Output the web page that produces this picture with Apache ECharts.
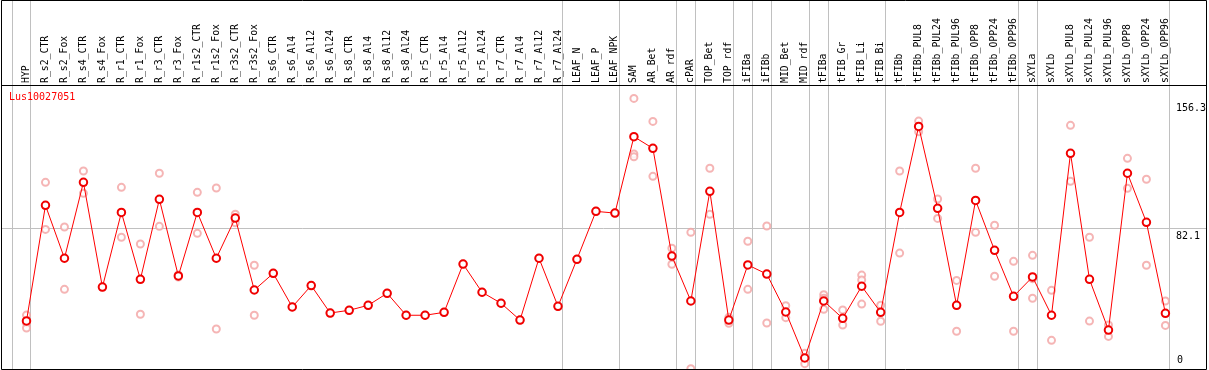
<!DOCTYPE html>
<html>
<head>
<meta charset="utf-8">
<script src="https://cdn.jsdelivr.net/npm/echarts@6/dist/echarts.min.js"></script>
<style>
html,body{margin:0;padding:0;background:#fff;}
#chart{width:1209px;height:370px;}
</style>
</head>
<body>
<div id="chart"></div>
<script>
const titleText = 'Lus10027051';
const categories = ['HYP','R_s2_CTR','R_s2_Fox','R_s4_CTR','R_s4_Fox','R_r1_CTR','R_r1_Fox','R_r3_CTR','R_r3_Fox','R_r1s2_CTR','R_r1s2_Fox','R_r3s2_CTR','R_r3s2_Fox','R_s6_CTR','R_s6_Al4','R_s6_Al12','R_s6_Al24','R_s8_CTR','R_s8_Al4','R_s8_Al12','R_s8_Al24','R_r5_CTR','R_r5_Al4','R_r5_Al12','R_r5_Al24','R_r7_CTR','R_r7_Al4','R_r7_Al12','R_r7_Al24','LEAF_N','LEAF_P','LEAF_NPK','SAM','AR_Bet','AR_rdf','cPAR','TOP_Bet','TOP_rdf','iFIBa','iFIBb','MID_Bet','MID_rdf','tFIBa','tFIB_Gr','tFIB_Li','tFIB_Bi','tFIBb','tFIBb_PUL8','tFIBb_PUL24','tFIBb_PUL96','tFIBb_OPP8','tFIBb_OPP24','tFIBb_OPP96','sXYLa','sXYLb','sXYLb_PUL8','sXYLb_PUL24','sXYLb_PUL96','sXYLb_OPP8','sXYLb_OPP24','sXYLb_OPP96'];
const meanValues = [28.0,95.3,64.5,108.7,47.7,91.2,52.2,98.8,54.2,91.2,64.5,87.9,46.0,55.7,36.1,48.6,32.6,34.2,37.1,44.1,31.3,31.3,33.0,61.1,44.7,38.3,28.5,64.5,36.5,63.9,91.8,90.8,135.3,128.5,65.8,39.6,103.5,28.5,60.6,55.3,33.2,6.4,39.6,29.5,48.2,33.0,91.2,141.3,93.6,37.1,98.2,69.1,42.3,53.6,31.3,125.6,52.2,22.7,114.0,85.4,32.4];
const replicates = [
  [31.4,26.8,23.9],[108.7,81.3],[82.7,46.4],[115.3,102.3],[47.7],[105.8,76.7],[72.8,31.9],[114.0,83.1],[53.6,54.8],[102.9,79.0],[105.4,23.3],[90.1,85.2],[60.4,31.3],
  [55.7],[36.1],[48.6],[32.6],[34.2],[37.1],[44.1],[31.3],[31.3],[33.0],[61.1],[44.7],[38.3],[28.5],[64.5],[36.5],[63.9],[91.8],[90.8],
  [157.6,125.2,123.6],[144.2,112.2],[70.3,61.0],[79.6,0.2],[116.9,90.1],[30.1,26.6],[74.4,46.4],[83.3,26.8],[36.9,29.9],[9.1,3.1],
  [43.3,41.2,34.8],[34.4,25.6],[54.7,51.8,37.8],[37.1,27.8],[115.3,67.5],[144.4,138.2],[99.0,87.7],[51.6,22.0],[116.9,79.6],[83.7,54.0],[62.7,22.0],
  [66.2,52.6,41.2],[45.8,16.7],[141.9,109.3],[76.7,27.9],[25.6,19.0],[122.7,105.2],[110.5,60.4],[39.6,25.4]
];
const yTickValues = [0, 82.1, 156.3];
const yGridValue = 82.1;
const groupEnds = [-1, 0, 28, 31, 34, 35, 37, 38, 39, 41, 42, 45, 52, 53, 60];

const repData = [];
replicates.forEach((arr, i) => arr.forEach(v => repData.push([i, v])));

const FONT = 'DejaVu Sans Mono';
const YMAX = 165.4;
const gridBase = {left: 17, right: 33, top: 85, bottom: 1};

const chart = echarts.init(document.getElementById('chart'), null, {renderer: 'canvas'});
chart.setOption({
  animation: false,
  backgroundColor: '#fff',
  title: {
    text: titleText, left: 9, top: 92, padding: 0,
    textStyle: {color: '#ff0000', fontSize: 10, fontWeight: 'normal', fontFamily: FONT}
  },
  grid: [Object.assign({}, gridBase), Object.assign({}, gridBase)],
  xAxis: [{
    type: 'category', data: categories, position: 'top', gridIndex: 0,
    boundaryGap: true,
    axisLine: {show: false}, axisTick: {show: false}, splitLine: {show: false},
    axisLabel: {rotate: 90, interval: 0, margin: 2, color: '#000', fontSize: 9.8, fontFamily: FONT}
  }, {
    type: 'category', data: categories, gridIndex: 1, show: false
  }],
  yAxis: [{
    type: 'value', position: 'right', min: 0, max: YMAX, gridIndex: 0,
    axisLine: {show: false}, axisTick: {show: false}, splitLine: {show: false},
    axisLabel: {
      customValues: yTickValues.filter(v => v > 0),
      verticalAlign: 'top', align: 'left', margin: 1, padding: [3, 0, 0, 0],
      color: '#000', fontSize: 10, fontFamily: FONT,
      formatter: v => String(v)
    }
  }, {
    type: 'value', position: 'right', min: 0, max: YMAX, gridIndex: 1,
    axisLine: {show: false}, axisTick: {show: false}, splitLine: {show: false},
    axisLabel: {
      customValues: yTickValues.filter(v => v === 0),
      verticalAlign: 'bottom', align: 'left', margin: 1, padding: [0, 0, 4, 0],
      color: '#000', fontSize: 10, fontFamily: FONT,
      formatter: v => String(v)
    }
  }],
  series: [{
    type: 'scatter', xAxisIndex: 0, yAxisIndex: 0, data: repData,
    symbol: 'emptyCircle', symbolSize: 7, clip: false, z: 3,
    itemStyle: {color: '#f2a2a2', borderColor: '#f2a2a2', borderWidth: 1.1}
  }, {
    type: 'line', xAxisIndex: 0, yAxisIndex: 0, data: meanValues,
    symbol: 'emptyCircle', symbolSize: 7.5, showSymbol: true, clip: false, z: 4,
    lineStyle: {color: '#ff0000', width: 1},
    itemStyle: {color: '#f00000', borderColor: '#f00000', borderWidth: 1.2}
  }]
});

// Decorations computed from the library's own axes
const x0 = chart.convertToPixel({xAxisIndex: 0}, 0);
const x1 = chart.convertToPixel({xAxisIndex: 0}, 1);
const step = x1 - x0;
const yG = chart.convertToPixel({yAxisIndex: 0}, yGridValue);
const graphics = [];
groupEnds.forEach(i => {
  const x = Math.round(x0 + step * i + 4) + 0.5;
  graphics.push({type: 'line', z: 1, silent: true, shape: {x1: x, y1: 0, x2: x, y2: 370}, style: {stroke: '#c0c0c0', lineWidth: 1}});
});
const yy = Math.round(yG) + 0.5;
graphics.push({type: 'line', z: 1, silent: true, shape: {x1: 1, y1: yy, x2: 1206, y2: yy}, style: {stroke: '#c0c0c0', lineWidth: 1}});
// frame and separator
graphics.push({type: 'rect', z: 10, silent: true, shape: {x: 1.5, y: 0.5, width: 1205, height: 369}, style: {fill: null, stroke: '#000', lineWidth: 1}});
graphics.push({type: 'line', z: 10, silent: true, shape: {x1: 1, y1: 85.5, x2: 1207, y2: 85.5}, style: {stroke: '#000', lineWidth: 1}});
chart.setOption({graphic: graphics});
</script>
</body>
</html>
